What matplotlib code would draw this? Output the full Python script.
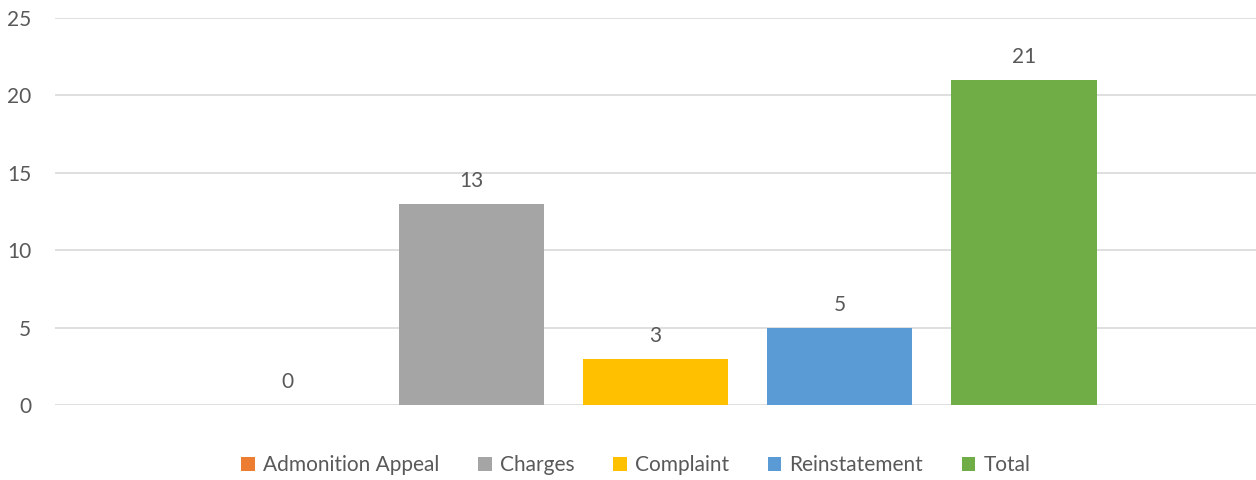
import matplotlib.pyplot as plt
import numpy as np

plt.rcParams['font.family'] = ['Lato', 'DejaVu Sans']

series = ["Admonition Appeal", "Charges", "Complaint", "Reinstatement", "Total"]
values = [0, 13, 3, 5, 21]
colors = ["#ED7D31", "#A5A5A5", "#FFC000", "#5B9BD5", "#70AD47"]
yticks = [0, 5, 10, 15, 20, 25]

TEXT = "#595959"
FS = 15

fig = plt.figure(figsize=(12.56, 4.8), dpi=100)
ax = fig.add_axes([55 / 1256, 75 / 480, 1 - 55 / 1256, 387 / 480])

x = np.arange(len(series))
for i, (name, v, c) in enumerate(zip(series, values, colors)):
    ax.bar(x[i], v, width=0.79, color=c, label=name, zorder=2)
    ax.annotate(str(v), (x[i], v), xytext=(0, 9), textcoords="offset points",
                ha="center", va="bottom", fontsize=FS, color=TEXT)

ax.set_xlim(-1.26, 5.26)
ax.set_ylim(0, 25)
ax.set_yticks(yticks)
ax.set_xticks([])
ax.grid(axis="y", color="#D9D9D9", linewidth=1.2, zorder=0)
for s in ax.spines.values():
    s.set_visible(False)
ax.tick_params(axis="y", length=0, labelsize=FS, labelcolor=TEXT, pad=17)

leg = fig.legend(loc="center", bbox_to_anchor=(636 / 1256, 1 - 465 / 480),
                 ncol=5, frameon=False, fontsize=FS, handlelength=0.65,
                 handleheight=0.65, handletextpad=0.4, columnspacing=1.85)
for t in leg.get_texts():
    t.set_color(TEXT)

fig.savefig("out.png", dpi=100)
